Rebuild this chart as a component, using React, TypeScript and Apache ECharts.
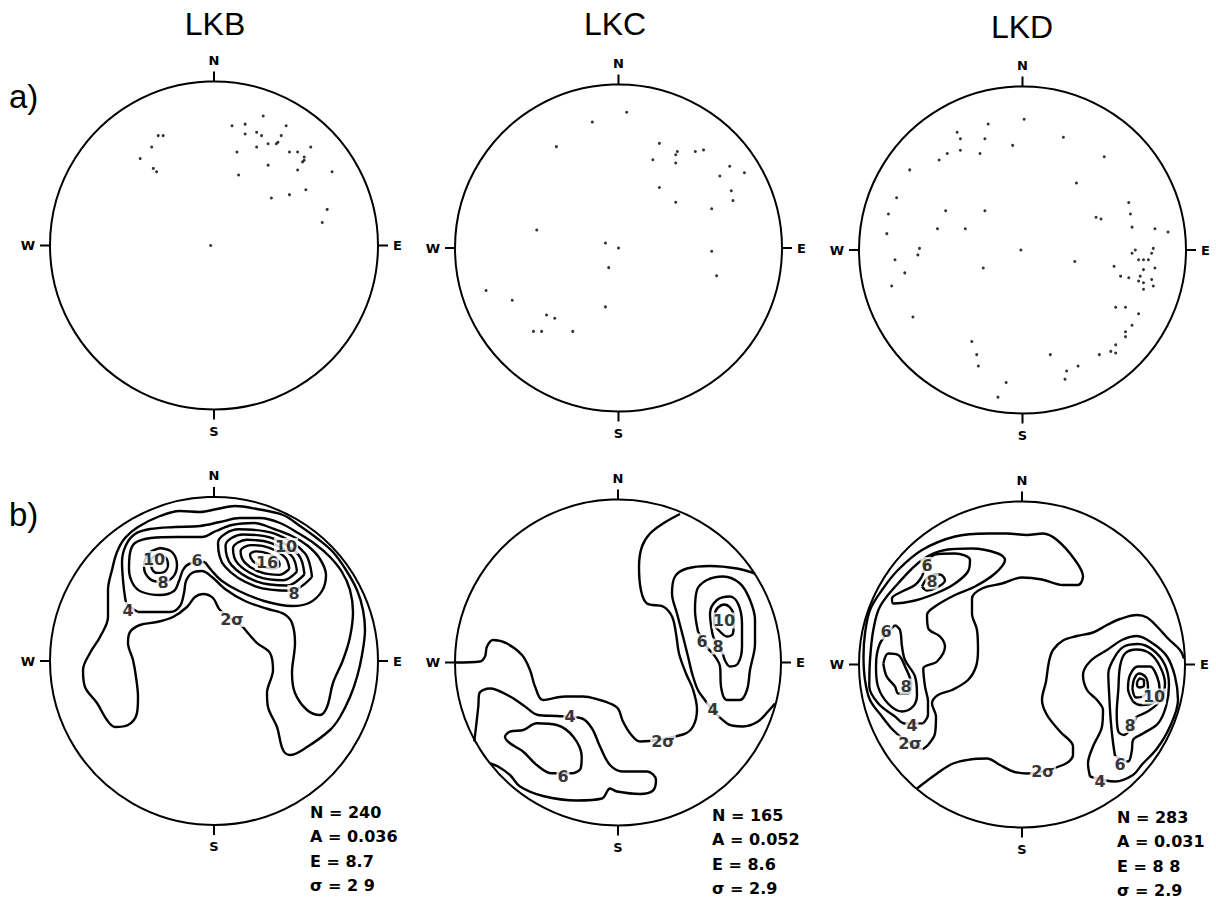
import React, { useEffect, useRef } from "react";
import * as echarts from "echarts";

// ---------- text ----------
const NET_NAMES = ["LKB", "LKC", "LKD"];
const ROW_TAGS = ["a)", "b)"];
const STAT_LINES = [
  ["N = 240", "A = 0.036", "E = 8.7", "σ = 2 9"],
  ["N = 165", "A = 0.052", "E = 8.6", "σ = 2.9"],
  ["N = 283", "A = 0.031", "E = 8 8", "σ = 2.9"],
];
const CARDINALS: Record<number, string> = { 0: "N", 90: "E", 180: "S", 270: "W" };

// ---------- a) poles: [east, north] as fractions of the net radius ----------
const LKB_POLES = [
  [0.30, 0.79], [0.11, 0.73], [0.19, 0.74], [0.19, 0.68], [0.26, 0.69], [0.29, 0.67],
  [0.33, 0.62], [0.38, 0.62], [0.39, 0.63], [0.41, 0.67], [0.44, 0.73], [0.14, 0.57],
  [0.26, 0.60], [0.46, 0.57], [0.51, 0.57], [0.55, 0.54], [0.59, 0.60], [0.54, 0.51],
  [0.55, 0.52], [0.51, 0.46], [0.33, 0.49], [0.15, 0.43], [0.72, 0.45], [0.56, 0.34],
  [0.46, 0.31], [0.35, 0.29], [0.69, 0.22], [0.66, 0.14], [-0.34, 0.67], [-0.31, 0.67],
  [-0.38, 0.60], [-0.45, 0.53], [-0.37, 0.47], [-0.35, 0.45], [-0.02, 0.0],
];
const LKC_POLES = [
  [0.05, 0.83], [-0.16, 0.77], [-0.38, 0.62], [0.25, 0.64], [0.21, 0.54], [0.35, 0.57],
  [0.36, 0.59], [0.35, 0.52], [0.47, 0.59], [0.52, 0.60], [0.68, 0.50], [0.62, 0.44],
  [0.77, 0.46], [0.25, 0.37], [0.35, 0.28], [0.69, 0.35], [0.70, 0.29], [0.57, 0.24],
  [-0.50, 0.11], [-0.08, 0.03], [0.0, 0.0], [-0.06, -0.12], [0.57, -0.02], [0.60, -0.17],
  [-0.81, -0.26], [-0.65, -0.32], [-0.08, -0.36], [-0.44, -0.41], [-0.39, -0.43],
  [-0.52, -0.51], [-0.47, -0.51], [-0.28, -0.51],
];
const LKD_POLES = [
  [0.01, 0.80], [-0.21, 0.77], [-0.40, 0.72], [-0.38, 0.68], [-0.23, 0.68], [0.25, 0.69],
  [-0.06, 0.64], [-0.38, 0.61], [-0.46, 0.59], [-0.26, 0.59], [-0.51, 0.55], [-0.69, 0.49],
  [0.50, 0.57], [0.33, 0.41], [-0.77, 0.32], [-0.47, 0.24], [-0.23, 0.24], [-0.82, 0.22],
  [-0.83, 0.10], [-0.52, 0.13], [-0.35, 0.13], [0.45, 0.20], [0.48, 0.19], [0.65, 0.29],
  [0.66, 0.22], [0.67, 0.14], [0.81, 0.13], [0.89, 0.11], [-0.63, 0.01], [-0.64, -0.03],
  [-0.78, -0.06], [-0.72, -0.14], [-0.80, -0.22], [-0.24, -0.11], [-0.01, 0.0], [0.32, -0.07],
  [0.56, -0.10], [0.67, -0.02], [0.69, 0.0], [0.71, -0.06], [0.74, -0.06], [0.77, -0.06],
  [0.80, 0.01], [0.79, -0.02], [0.81, -0.11], [0.74, -0.12], [0.60, -0.16], [0.65, -0.17],
  [0.72, -0.16], [0.71, -0.19], [0.74, -0.20], [0.79, -0.18], [0.80, -0.22], [0.74, -0.24],
  [0.57, -0.35], [0.63, -0.35], [0.71, -0.39], [0.67, -0.46], [0.63, -0.50], [0.63, -0.53],
  [0.57, -0.58], [0.54, -0.62], [0.57, -0.63], [0.47, -0.64], [0.17, -0.64], [0.34, -0.71],
  [0.27, -0.74], [0.26, -0.79], [-0.67, -0.41], [-0.31, -0.56], [-0.28, -0.64], [-0.27, -0.71],
  [-0.10, -0.81], [-0.15, -0.90],
];

// ---------- b) contours: [east, north] in units where the net radius = CONTOUR_NET_RADIUS ----------
const CONTOUR_NET_RADIUS = [164, 163, 163];

// LKB
const LKB_2S = [
  [29, 34], [43, 18], [56, 8], [59, -9], [53, -32], [54, -46], [63, -66], [69, -89], [76, -94],
  [93, -86], [116, -69], [126, -56], [136, -36], [143, -16], [148, 6], [151, 31], [149, 51],
  [143, 71], [132, 91], [119, 109], [104, 122], [86, 135], [69, 146], [43, 152], [21, 155],
  [3, 152], [-14, 149], [-34, 150], [-54, 145], [-76, 134], [-89, 123], [-97, 109], [-102, 91],
  [-106, 71], [-106, 44], [-114, 24], [-124, 8], [-131, -9], [-129, -26], [-117, -42],
  [-107, -59], [-99, -66], [-86, -64], [-77, -52], [-76, -36], [-78, -16], [-81, 1], [-86, 18],
  [-84, 29], [-74, 36], [-57, 39], [-41, 44], [-27, 54], [-19, 64], [-11, 67], [-1, 63], [6, 51],
];
const LKB_4 = [
  [-76, 49], [-44, 49], [-34, 55], [-30, 68], [-28, 80], [-22, 88], [-12, 90], [-2, 84], [11, 72],
  [31, 60], [54, 52], [70, 47], [78, 38], [81, 18], [78, -12], [81, -32], [93, -49], [106, -54],
  [113, -46], [119, -22], [129, 1], [136, 24], [139, 49], [136, 71], [128, 89], [116, 104],
  [101, 117], [84, 128], [66, 138], [46, 143], [26, 143], [6, 139], [-14, 135], [-39, 134],
  [-64, 132], [-79, 127], [-88, 116], [-92, 99], [-91, 81], [-89, 64], [-87, 57],
];
const LKB_6 = [
  [-9, 99], [-2, 90], [8, 80], [25, 70], [50, 60], [78, 55], [95, 58], [108, 70], [112, 86],
  [106, 102], [94, 115], [78, 125], [60, 132], [40, 138], [18, 136], [2, 130], [-12, 124],
  [-37, 124], [-63, 123], [-79, 118], [-84, 108], [-85, 92], [-81, 77], [-72, 69], [-54, 66],
  [-40, 70], [-35, 80], [-31, 91], [-25, 97],
];
const LKB_8_WEST = [[-54, 113], [-42, 109], [-37, 96], [-41, 84], [-52, 79], [-64, 82], [-70, 94], [-66, 107]];
const LKB_10_WEST = [[-56, 106], [-48, 103], [-46, 96], [-50, 89], [-57, 88], [-62, 92], [-63, 99], [-61, 104]];
const LKB_8_EAST = [[98, 84], [77.5, 70.3], [41.4, 74.7], [10.9, 94.5], [4, 118.1], [24.5, 131.7], [60.6, 127.3], [91.1, 107.5]];
const LKB_10_EAST = [[90.5, 86.6], [73.3, 75.5], [43.1, 79.4], [17.5, 95.9], [11.5, 115.4], [28.7, 126.5], [58.9, 122.6], [84.5, 106.1]];
const LKB_12_EAST = [[83, 89.4], [69.2, 80.8], [44.8, 84.1], [24, 97.2], [19, 112.6], [32.8, 121.2], [57.2, 117.9], [78, 104.8]];
const LKB_14_EAST = [[75.4, 92.1], [65.2, 86.1], [46.6, 88.8], [30.6, 98.7], [26.6, 109.9], [36.8, 115.9], [55.4, 113.2], [71.4, 103.3]];
const LKB_16_EAST = [[66, 95.5], [59.9, 92.4], [48.6, 94.4], [38.7, 100.2], [36, 106.5], [42.1, 109.6], [53.4, 107.6], [63.3, 101.8]];
const LKB_LABELS = [
  [18, 42, "2σ"], [-86, 51, "4"], [-17, 101, "6"], [-51, 79, "8"], [-60, 102, "10"],
  [80, 68, "8"], [72, 115, "10"], [53, 99, "16"],
];

// LKC
const LKC_2S = [
  [62, 148.5], [45, 139], [32, 129], [24, 116], [21, 96], [23, 72], [29, 59], [45, 56], [54, 46],
  [58, 29], [61, 9], [68, -11], [75, -27], [79, -47], [75, -64], [65, -72], [22, -79], [13, -72],
  [5, -59], [0, -46], [-8, -41], [-18, -37.5], [-35, -34], [-53, -34], [-75, -37.5], [-83, -24],
  [-88, -7.5], [-96, 7.5], [-111, 19], [-125, 22.5], [-131, 16], [-133, 6], [-138, 1], [-162, 0],
];
const LKC_4_EAST = [
  [137, 89], [119, 94], [92, 96.5], [69, 94], [57, 86], [54, 69], [59, 49], [65, 26], [70, 6],
  [75, -14], [82, -31], [109, -61], [125, -64], [140, -59], [150, -49], [157, -41],
];
const LKC_6_EAST = [
  [80, 31], [77, 52.5], [79, 72.5], [89, 82.5], [105, 86], [122, 79], [132, 62.5], [137, 42.5],
  [137, 19], [132, -7.5], [129, -27.5], [122, -37.5], [109, -37.5], [103, -24], [102, -4],
  [96, 7.5], [90, 14],
];
const LKC_8_EAST = [
  [105, 8.5], [107, 2], [112, -4], [120, -1], [124, 16], [124, 39], [120, 59], [112, 66],
  [99, 62.5], [92, 49], [94, 31], [96, 24],
];
const LKC_10_EAST = [[97, 50], [100, 55], [106, 58], [112, 55], [116, 46], [115, 29], [109, 26], [102, 31], [96, 39]];
const LKC_4_SW = [
  [-143.7, -79], [-139.7, -44], [-138.7, -31], [-128, -26], [-108, -34], [-93, -44], [-80, -52.5],
  [-61, -53.5], [-36, -56], [-26, -66], [-18, -84], [-8, -102.5], [5, -109], [29, -109],
  [38, -117.5], [35, -128], [22, -131.5], [-1, -129], [-8, -126], [-16, -136], [-41, -138],
  [-75, -133.5], [-98, -124], [-108, -112.5], [-120, -104], [-128, -101],
];
const LKC_6_SW = [
  [-44.7, -110.8], [-37.3, -105.8], [-36.3, -94.2], [-44.7, -74.2], [-61.3, -62.5], [-81.3, -60.8],
  [-94.7, -67.5], [-108, -69.2], [-113, -74.2], [-108, -80.8], [-94.7, -89.2], [-81.3, -102.5],
  [-66.3, -110.8],
];
const LKC_LABELS = [
  [45, -79, "2σ"], [95, -47, "4"], [84, 21, "6"], [100, 16, "8"], [106, 42, "10"],
  [-48, -53.5, "4"], [-55, -114, "6"],
];

// LKD
const LKD_2S_WEST = [
  [-100, -85], [-94, -80.5], [-87, -69], [-86, -52], [-90, -39], [-84, -30.5], [-70, -25.5],
  [-54, -15.5], [-46, -2], [-44, 14.5], [-45, 34.5], [-50, 51], [-50, 66], [-40, 76], [-20, 81],
  [0, 87], [20, 85], [41, 79.5], [56, 79.5], [61, 88], [53, 104.5], [35, 124.5], [21, 131],
  [5, 129.5], [-15, 131], [-34, 131], [-67, 128], [-100, 114.5], [-124, 94.5], [-140, 74.5],
  [-152, 54.5], [-157, 31], [-158.5, 8], [-157, -15.5], [-152, -35.5], [-140, -52],
  [-129, -65.5], [-119, -74],
];
const LKD_4_WEST = [
  [-98.7, -58.8], [-94, -50], [-94, -37], [-97, -22], [-98.7, -4], [-85, 3], [-77, 18], [-82, 28],
  [-93.7, 36], [-95, 49.5], [-87, 58], [-67, 69.5], [-47, 78], [-27, 91], [-17, 104.5],
  [-24, 111], [-50, 116], [-77, 114.5], [-100, 104.5], [-124, 81], [-142, 58], [-148.7, 34.5],
  [-152, 4.5], [-152.7, -22], [-143.7, -39], [-127, -52], [-117, -59],
];
const LKD_6_NW = [
  [-100, 88], [-107, 79.5], [-120, 73], [-130, 66], [-128.7, 61], [-107, 64], [-84, 72],
  [-67, 81], [-54, 93], [-52, 104.5], [-67, 111], [-87, 110],
];
const LKD_8_NW = [[-100, 78], [-93, 88], [-82, 90], [-77, 84], [-85, 77], [-95, 74]];
const LKD_6_WEST = [
  [-127, 39.5], [-122, 34.5], [-120, 18], [-117, 4.5], [-107, -12], [-105, -30.5], [-109, -42],
  [-120, -47], [-134, -39], [-144, -22], [-146, -2], [-145, 11], [-141, 23],
];
const LKD_8_WEST = [
  [-138.7, 1], [-133.7, 11], [-123.7, 9.5], [-117, -2], [-111, -19], [-113.7, -29], [-123.7, -29],
  [-127, -22], [-135.3, -12],
];
const LKD_2S_EAST = [
  [-105, -124], [-85, -109], [-69, -99], [-52, -95], [-35, -94], [-22, -100.5], [-9, -107],
  [5, -109], [41, -100.5], [51, -90.5], [51, -82], [38, -67], [25, -50.5], [20, -35.5], [24, -17],
  [27, 3], [31, 14.5], [41, 24], [55, 28.5], [71, 32], [85, 39.5], [98, 45.5], [115, 49.5],
  [125, 47], [135, 38], [146, 26], [158, 14.5], [162, 6],
];
const LKD_4_EAST = [
  [68, -112], [66, -99], [71, -82], [80, -62], [81, -45.5], [75, -35.5], [65, -25.5], [61, -10.5],
  [68, 3], [85, 14.5], [101, 25], [115, 28.5], [131, 21], [145, 8], [153, -12], [156, -35.5],
  [148, -62], [135, -84], [120, -100], [111, -110.5], [93, -117],
];
const LKD_6_EAST = [
  [93, -91.5], [90.7, -75.5], [88.7, -55.5], [87.3, -32], [86.3, -9], [93, 8], [102, 18],
  [116, 20.5], [131, 14.5], [143, -0.5], [147, -20.5], [144, -42], [136, -59], [121, -69],
  [111, -75.5], [109.7, -87], [106, -97],
];
const LKD_8_EAST = [
  [114.7, -52], [128, -45.5], [138.7, -35.5], [143, -19], [138, -2], [128, 11], [114.7, 15],
  [103, 11], [98, -2], [96.3, -25.5], [94.7, -49], [96.3, -67], [102, -70.5],
];
const LKD_10_EAST = [
  [111, -37], [106, -24], [108, -10.5], [116, -2], [128, -2], [135, -12], [137.7, -25.5],
  [134.7, -35.5], [128, -39.5], [118, -40.5],
];
const LKD_12_EAST = [[110.5, -25], [112, -15], [117, -9], [124, -13], [126, -24], [121, -32], [114, -33]];
const LKD_PEAK_EAST = [[115, -18], [118, -14], [122, -16], [122, -21], [118, -23], [115, -21]];
const LKD_LABELS = [
  [-112, -79, "2σ"], [-110, -60.5, "4"], [-136, 33, "6"], [-116, -22, "8"], [-95, 99.5, "6"],
  [-90, 83, "8"], [21, -106.5, "2σ"], [78, -117, "4"], [98, -99.5, "6"], [108, -60.5, "8"],
  [132, -32, "10"],
];

const CONTOURS = [
  [
    { pts: LKB_2S, closed: true }, { pts: LKB_4, closed: true }, { pts: LKB_6, closed: true },
    { pts: LKB_8_WEST, closed: true }, { pts: LKB_10_WEST, closed: true },
    { pts: LKB_8_EAST, closed: true }, { pts: LKB_10_EAST, closed: true },
    { pts: LKB_12_EAST, closed: true }, { pts: LKB_14_EAST, closed: true },
    { pts: LKB_16_EAST, closed: true },
  ],
  [
    { pts: LKC_2S, closed: false }, { pts: LKC_4_EAST, closed: false },
    { pts: LKC_6_EAST, closed: true }, { pts: LKC_8_EAST, closed: true },
    { pts: LKC_10_EAST, closed: true }, { pts: LKC_4_SW, closed: false },
    { pts: LKC_6_SW, closed: true },
  ],
  [
    { pts: LKD_2S_WEST, closed: true }, { pts: LKD_4_WEST, closed: true },
    { pts: LKD_6_NW, closed: true }, { pts: LKD_8_NW, closed: true },
    { pts: LKD_6_WEST, closed: true }, { pts: LKD_8_WEST, closed: true },
    { pts: LKD_2S_EAST, closed: false }, { pts: LKD_4_EAST, closed: true },
    { pts: LKD_6_EAST, closed: true }, { pts: LKD_8_EAST, closed: true },
    { pts: LKD_10_EAST, closed: true }, { pts: LKD_12_EAST, closed: true },
    { pts: LKD_PEAK_EAST, closed: true },
  ],
];
const POLES = [LKB_POLES, LKC_POLES, LKD_POLES];
const CONTOUR_LABELS = [LKB_LABELS, LKC_LABELS, LKD_LABELS];

// ---------- layout ----------
const TOP_PANELS = [
  { cx: 214, cy: 245.5, r: 164 },
  { cx: 618.5, cy: 248, r: 163.5 },
  { cx: 1022.5, cy: 250, r: 163.5 },
];
const BOTTOM_PANELS = [
  { cx: 214, cy: 661, r: 164 },
  { cx: 618, cy: 662.5, r: 163 },
  { cx: 1022, cy: 664.5, r: 163 },
];
const TITLE_POS = [[215, 24], [615, 24], [1022, 27]];
const TAG_POS = [[9, 96], [9, 514]];
const STAT_POS = [[310, 812], [712, 815], [1117, 817]];
const STAT_STEP = 24.5;

function buildOption() {
  const panels = [...TOP_PANELS, ...BOTTOM_PANELS];
  const extent = [1, 1, 1, ...CONTOUR_NET_RADIUS];
  const grid = panels.map((p) => ({ left: p.cx - p.r, top: p.cy - p.r, width: 2 * p.r, height: 2 * p.r }));
  const axisBase = (i: number) => ({ gridIndex: i, type: "value", min: -extent[i], max: extent[i], show: false });
  const xAxis = panels.map((_, i) => axisBase(i));
  const yAxis = panels.map((_, i) => axisBase(i));
  const polar = panels.map((p) => ({ center: [p.cx, p.cy], radius: p.r }));
  const angleAxis = panels.map((_, i) => ({
    polarIndex: i,
    type: "value",
    min: 0,
    max: 360,
    interval: 90,
    startAngle: 90,
    clockwise: true,
    axisLine: { show: true, lineStyle: { color: "#000", width: 2 } },
    axisTick: { show: true, inside: false, length: 10, lineStyle: { color: "#000", width: 2 } },
    axisLabel: {
      show: true,
      margin: 15,
      formatter: (v: number) => CARDINALS[v] ?? "",
      color: "#000",
      fontSize: 13,
      fontWeight: "bold",
      fontFamily: "DejaVu Sans",
    },
    splitLine: { show: false },
    splitArea: { show: false },
  }));
  const radiusAxis = panels.map((_, i) => ({ polarIndex: i, type: "value", min: 0, max: 1, show: false }));

  const series: any[] = [];
  POLES.forEach((pts, i) => {
    series.push({
      type: "scatter",
      xAxisIndex: i,
      yAxisIndex: i,
      data: pts,
      symbol: "circle",
      symbolSize: 3,
      itemStyle: { color: "#000" },
      silent: true,
    });
  });
  CONTOURS.forEach((list, j) => {
    list.forEach((c) => {
      series.push({
        type: "line",
        xAxisIndex: 3 + j,
        yAxisIndex: 3 + j,
        data: c.closed ? [...c.pts, c.pts[0]] : c.pts,
        smooth: 0.35,
        symbol: "none",
        lineStyle: { color: "#000", width: 2.4 },
        silent: true,
        z: 2,
      });
    });
  });
  CONTOUR_LABELS.forEach((labels, j) => {
    series.push({
      type: "scatter",
      xAxisIndex: 3 + j,
      yAxisIndex: 3 + j,
      data: labels.map((l) => ({ value: [l[0], l[1]], name: l[2] })),
      symbolSize: 1,
      itemStyle: { color: "rgba(0,0,0,0)" },
      label: {
        show: true,
        position: "inside",
        formatter: "{b}",
        color: "#000",
        fontSize: 16,
        fontWeight: "bold",
        fontFamily: "DejaVu Sans",
        textBorderWidth: 0,
        textBorderColor: "transparent",
        backgroundColor: "#fff",
        padding: [0, 1],
      },
      silent: true,
      z: 5,
    });
  });

  const graphic: any[] = [];
  NET_NAMES.forEach((name, i) => {
    graphic.push({
      type: "text",
      x: TITLE_POS[i][0],
      y: TITLE_POS[i][1],
      style: {
        text: name,
        fontSize: 32,
        fontFamily: "Liberation Sans",
        fill: "#000",
        align: "center",
        verticalAlign: "middle",
      },
    });
  });
  ROW_TAGS.forEach((tag, i) => {
    graphic.push({
      type: "text",
      x: TAG_POS[i][0],
      y: TAG_POS[i][1],
      style: {
        text: tag,
        fontSize: 33,
        fontFamily: "Liberation Sans",
        fill: "#000",
        align: "left",
        verticalAlign: "middle",
      },
    });
  });
  STAT_LINES.forEach((lines, i) => {
    lines.forEach((line, k) => {
      graphic.push({
        type: "text",
        x: STAT_POS[i][0],
        y: STAT_POS[i][1] + k * STAT_STEP,
        style: {
          text: line,
          fontSize: 16,
          fontWeight: "bold",
          fontFamily: "DejaVu Sans",
          fill: "#000",
          align: "left",
          verticalAlign: "middle",
        },
      });
    });
  });

  return {
    animation: false,
    backgroundColor: "#fff",
    grid,
    xAxis,
    yAxis,
    polar,
    angleAxis,
    radiusAxis,
    series,
    graphic,
  };
}

export default function App() {
  const ref = useRef<HTMLDivElement>(null);
  useEffect(() => {
    if (!ref.current) return;
    const chart = echarts.init(ref.current, null, { renderer: "svg" });
    chart.setOption(buildOption() as any);
    return () => chart.dispose();
  }, []);
  return (
    <div
      ref={ref}
      style={{ position: "fixed", left: 0, top: 0, width: 1216, height: 901, background: "#fff" }}
    />
  );
}
